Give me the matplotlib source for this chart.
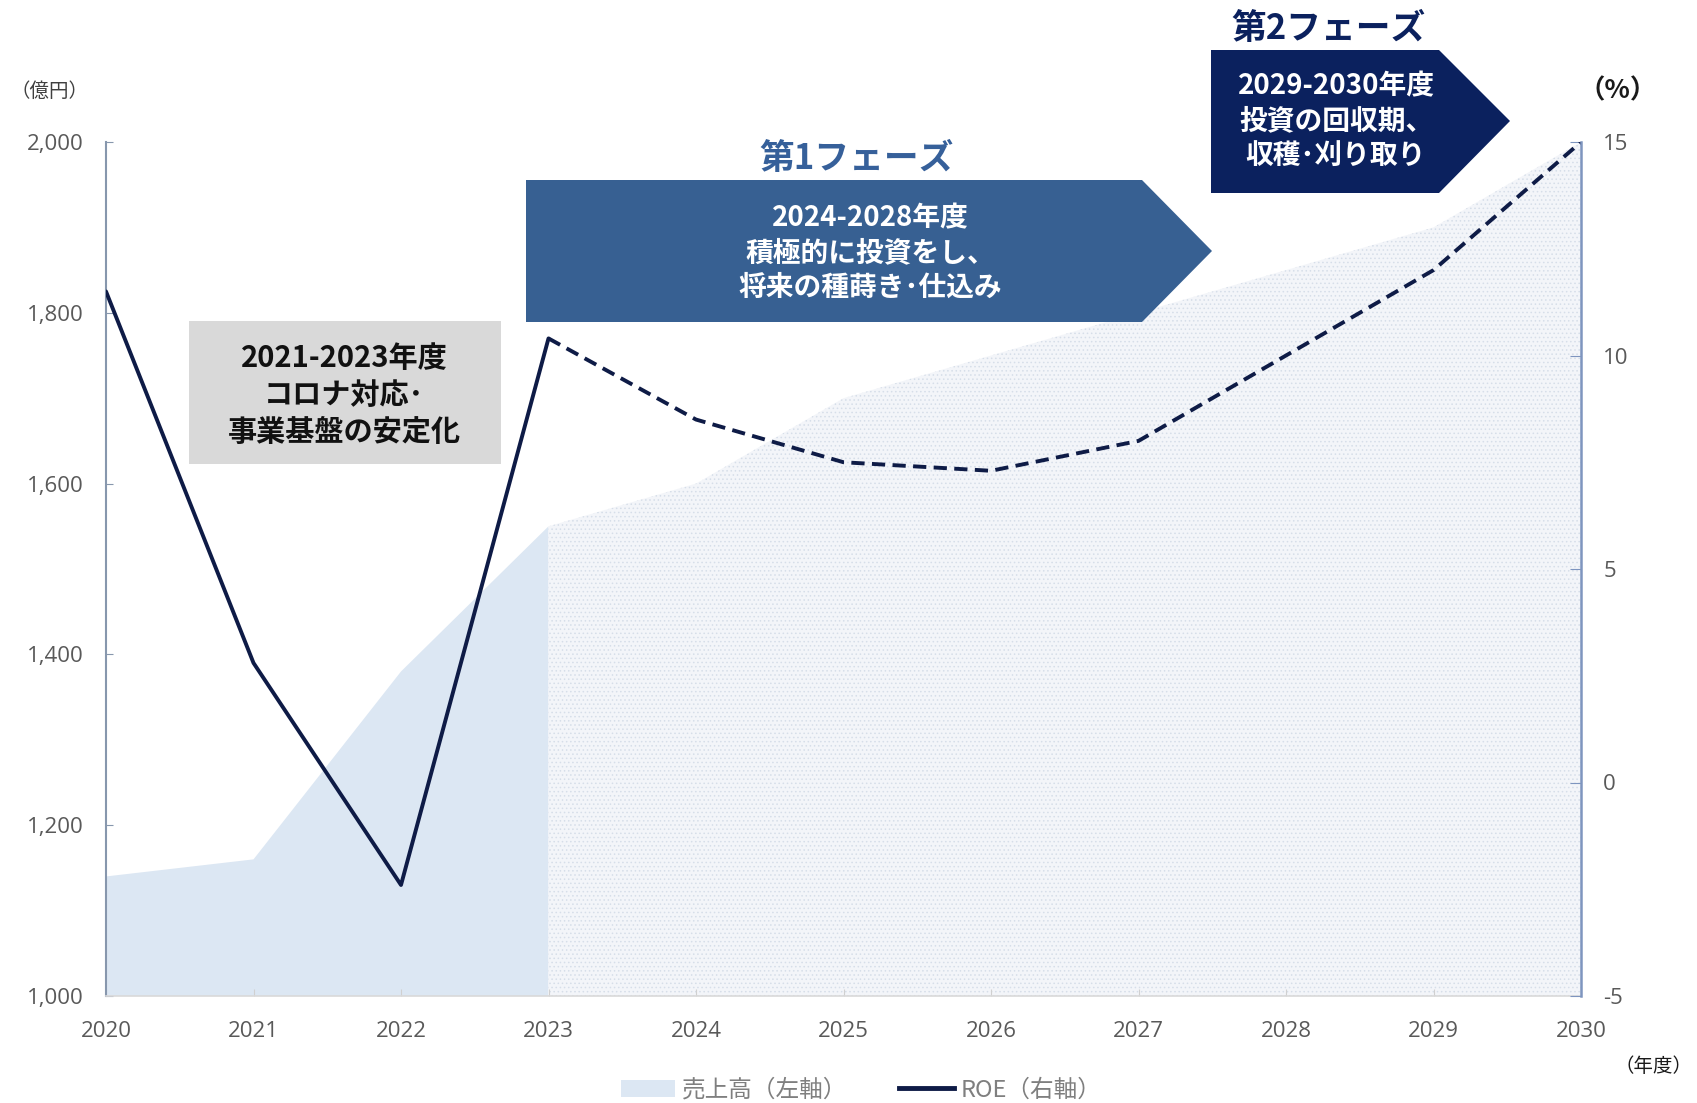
import matplotlib
matplotlib.use("Agg")
import matplotlib.pyplot as plt
from matplotlib.patches import Polygon, Rectangle, Patch
from matplotlib.lines import Line2D
from matplotlib.ticker import FuncFormatter

plt.rcParams["font.family"] = ["Noto Sans CJK JP", "DejaVu Sans"]
plt.rcParams["hatch.linewidth"] = 0.6

# データ
years = [2020, 2021, 2022, 2023, 2024, 2025, 2026, 2027, 2028, 2029, 2030]
sales = [1140, 1160, 1380, 1550, 1600, 1700, 1750, 1800, 1850, 1900, 2000]  # 売上高（億円）
roe = [11.5, 2.8, -2.4, 10.4, 8.5, 7.5, 7.3, 8.0, 10.0, 12.0, 15.0]  # ROE（%）
n_actual = 4  # 2020-2023 は実績

sales_ticks = [1000, 1200, 1400, 1600, 1800, 2000]
roe_ticks = [-5, 0, 5, 10, 15]

W, H = 1697, 1103
fig = plt.figure(figsize=(W / 100, H / 100), dpi=100)
ax = fig.add_axes([106 / W, 1 - 996 / H, (1581 - 106) / W, (996 - 142) / H])
ax2 = ax.twinx()


def fx(x):
    return x / W


def fy(y):
    return 1 - y / H


# 売上高（面）
ax.fill_between(years[:n_actual], 1000, sales[:n_actual], facecolor="#dce7f3", linewidth=0)
ax.fill_between(years[n_actual - 1:], 1000, sales[n_actual - 1:], facecolor="#f3f5f9",
                edgecolor="#d6dee9", hatch="....", linewidth=0)

ax.set_xlim(2020, 2030)
ax.set_ylim(1000, 2000)
ax.set_xticks(years)
ax.set_yticks(sales_ticks)
ax.yaxis.set_major_formatter(FuncFormatter(lambda v, p: f"{int(v):,}"))

# ROE（線）
ax2.plot(years[:n_actual], roe[:n_actual], color="#0e1b46", lw=2.8, solid_capstyle="round")
ax2.plot(years[n_actual - 1:], roe[n_actual - 1:], color="#0e1b46", lw=2.8, dashes=(3.4, 1.9))
ax2.set_ylim(-5, 15)
ax2.set_yticks(roe_ticks)
ax2.yaxis.set_major_formatter(FuncFormatter(lambda v, p: f"{int(v)}"))

# 軸の見た目
for a in (ax, ax2):
    a.spines["top"].set_visible(False)
ax.spines["right"].set_visible(False)
ax2.spines["left"].set_visible(False)
ax2.spines["bottom"].set_visible(False)
ax.spines["left"].set_color("#8797ad")
ax.spines["left"].set_linewidth(1.5)
ax.spines["bottom"].set_color("#d9d9d9")
ax.spines["bottom"].set_linewidth(1.2)
ax2.spines["right"].set_color("#7e95bf")
ax2.spines["right"].set_linewidth(1.8)

ax.tick_params(axis="y", direction="in", length=5, color="#8797ad", pad=16,
               labelsize=16, labelcolor="#595959", labelfontfamily="Open Sans")
ax.tick_params(axis="x", direction="in", length=5, color="#d0d0d0", pad=18,
               labelsize=16, labelcolor="#595959", labelfontfamily="Open Sans")
ax2.tick_params(axis="y", direction="in", length=8, color="#7e95bf", pad=16,
                labelsize=16, labelcolor="#595959", labelfontfamily="Open Sans")

# 単位
fig.text(fx(49), fy(91), "（億円）", ha="center", va="center", fontsize=14, color="#404040")
fig.text(fx(1618), fy(91), "（%）", ha="center", va="center", fontsize=19,
         fontweight="bold", color="#1a1a1a")
fig.text(fx(1693), fy(1066), "（年度）", ha="right", va="center", fontsize=14, color="#1a1a1a")

# フェーズ注記
fig.add_artist(Rectangle((fx(189), fy(464)), (501 - 189) / W, (464 - 321) / H,
                         transform=fig.transFigure, facecolor="#d9d9d9", edgecolor="none"))
fig.text(fx(344), fy(395), "2021-2023年度\nコロナ対応･\n事業基盤の安定化", ha="center", va="center",
         fontsize=21, fontweight="bold", color="#111111", linespacing=1.3)

blue_pts = [(526, 180), (1142, 180), (1212, 251), (1142, 322), (526, 322)]
fig.add_artist(Polygon([(fx(x), fy(y)) for x, y in blue_pts], closed=True,
                       transform=fig.transFigure, facecolor="#376092", edgecolor="none"))
fig.text(fx(870), fy(253), "2024-2028年度\n積極的に投資をし、\n将来の種蒔き･仕込み", ha="center", va="center",
         fontsize=20, fontweight="bold", color="white", linespacing=1.3)
fig.text(fx(857), fy(158), "第1フェーズ", ha="center", va="center",
         fontsize=25, fontweight="bold", color="#36609a")

navy_pts = [(1211, 50), (1439, 50), (1510, 121), (1439, 193), (1211, 193)]
fig.add_artist(Polygon([(fx(x), fy(y)) for x, y in navy_pts], closed=True,
                       transform=fig.transFigure, facecolor="#0b215e", edgecolor="none"))
fig.text(fx(1336), fy(121), "2029-2030年度\n投資の回収期、\n収穫･刈り取り", ha="center", va="center",
         fontsize=20, fontweight="bold", color="white", linespacing=1.3)
fig.text(fx(1329), fy(28), "第2フェーズ", ha="center", va="center",
         fontsize=25, fontweight="bold", color="#0b215e")

# 凡例
handles = [Patch(facecolor="#dce7f3", edgecolor="none"),
           Line2D([0], [0], color="#0e1b46", lw=3.5)]
fig.legend(handles, ["売上高（左軸）", "ROE（右軸）"], loc="center", ncol=2,
           bbox_to_anchor=(fx(861), fy(1090)), frameon=False, fontsize=17,
           labelcolor="#7f7f7f", handlelength=2.3, handletextpad=0.3, columnspacing=2.2)

fig.savefig("out.png", dpi=100)
